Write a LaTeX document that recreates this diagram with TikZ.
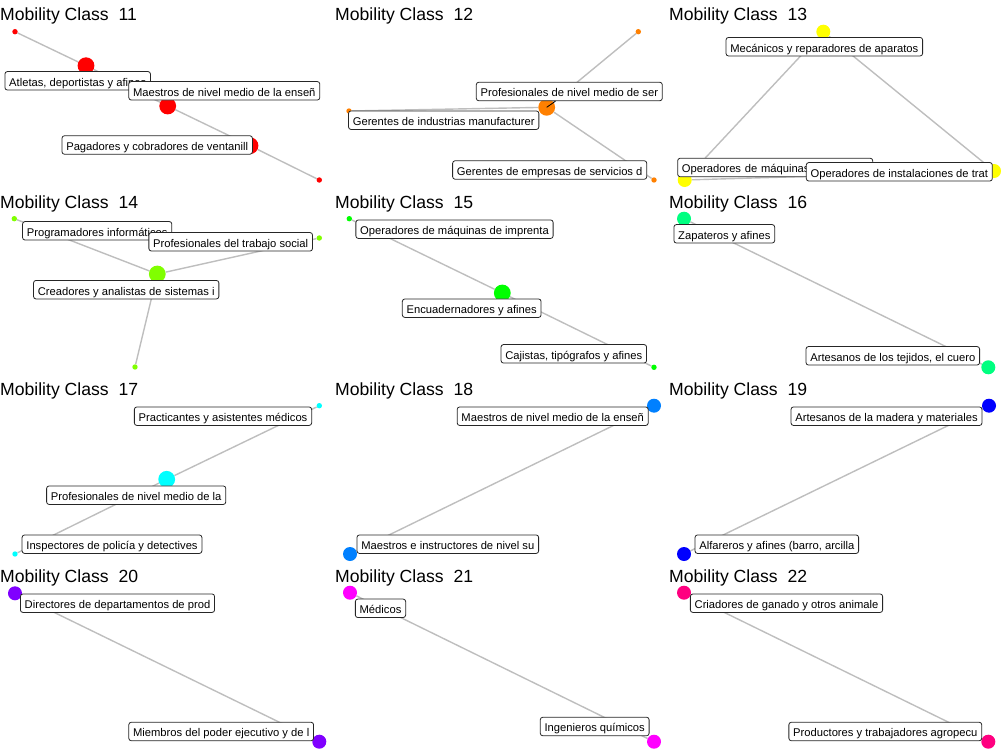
\documentclass[tikz,border=0pt]{standalone}
\usepackage{fontspec}
\setmainfont{Liberation Sans}
\usetikzlibrary{backgrounds}

\definecolor{c11}{RGB}{255,0,0}
\definecolor{c12}{RGB}{255,128,0}
\definecolor{c13}{RGB}{255,255,0}
\definecolor{c14}{RGB}{128,255,0}
\definecolor{c15}{RGB}{0,255,0}
\definecolor{c16}{RGB}{0,255,128}
\definecolor{c17}{RGB}{0,255,255}
\definecolor{c18}{RGB}{0,128,255}
\definecolor{c19}{RGB}{0,0,255}
\definecolor{c20}{RGB}{128,0,255}
\definecolor{c21}{RGB}{255,0,255}
\definecolor{c22}{RGB}{255,0,128}
\definecolor{edgegray}{RGB}{190,190,190}

\tikzset{
  bigpt/.style={circle, fill=#1, inner sep=0pt, minimum size=16.8pt},
  midpt/.style={circle, fill=#1, inner sep=0pt, minimum size=14pt},
  smallpt/.style={circle, fill=#1, inner sep=0pt, minimum size=5.4pt},
  lbl/.style={draw=black!85, fill=white, line width=0.8pt, rounded corners=2.5pt,
    inner xsep=4.3pt, inner ysep=3.2pt, text height=11.4pt, text depth=0.7pt,
    font=\fontsize{11.2}{13}\selectfont},
  ttl/.style={anchor=base west, inner sep=0pt, font=\fontsize{17.6}{20}\selectfont},
  edge/.style={draw=edgegray, line width=1.4pt},
  seg/.style={draw=black, line width=0.8pt}
}

\begin{document}
\begin{tikzpicture}[x=1pt, y=-1pt]
  \useasboundingbox (0,0) rectangle (1004,749);

  % titles
  \node[ttl] (t11) at (0,20.7) {Mobility Class~~11};
  \node[ttl] (t12) at (335,20.7) {Mobility Class~~12};
  \node[ttl] (t13) at (669,20.7) {Mobility Class~~13};
  \node[ttl] (t14) at (0,208.7) {Mobility Class~~14};
  \node[ttl] (t15) at (335,208.7) {Mobility Class~~15};
  \node[ttl] (t16) at (669,208.7) {Mobility Class~~16};
  \node[ttl] (t17) at (0,395.7) {Mobility Class~~17};
  \node[ttl] (t18) at (335,395.7) {Mobility Class~~18};
  \node[ttl] (t19) at (669,395.7) {Mobility Class~~19};
  \node[ttl] (t20) at (0,582.2) {Mobility Class~~20};
  \node[ttl] (t21) at (335,582.2) {Mobility Class~~21};
  \node[ttl] (t22) at (669,582.2) {Mobility Class~~22};

  % points
  \node[smallpt=c11] (p11a) at (15,31.7) {};
  \node[bigpt=c11] (p11b) at (86,65.7) {};
  \node[bigpt=c11] (p11c) at (167.7,106) {};
  \node[bigpt=c11] (p11d) at (250,145.7) {};
  \node[smallpt=c11] (p11e) at (319.3,180) {};

  \node[smallpt=c12] (p12a) at (638.3,31.7) {};
  \node[smallpt=c12] (p12b) at (349,111) {};
  \node[bigpt=c12] (p12c) at (546.7,107.3) {};
  \node[smallpt=c12] (p12d) at (654,180) {};

  \node[midpt=c13] (p13a) at (823.3,31.7) {};
  \node[midpt=c13] (p13b) at (684.7,180) {};
  \node[midpt=c13] (p13c) at (994,171) {};

  \node[smallpt=c14] (p14a) at (14.3,218.7) {};
  \node[smallpt=c14] (p14b) at (319.3,238) {};
  \node[bigpt=c14] (p14c) at (157.3,274) {};
  \node[smallpt=c14] (p14d) at (135,367) {};

  \node[smallpt=c15] (p15a) at (349.3,218.7) {};
  \node[bigpt=c15] (p15b) at (502.3,293) {};
  \node[smallpt=c15] (p15c) at (654,367.3) {};

  \node[midpt=c16] (p16a) at (684,218.7) {};
  \node[midpt=c16] (p16b) at (988.3,367.3) {};

  \node[smallpt=c17] (p17a) at (319.3,405.7) {};
  \node[bigpt=c17] (p17b) at (166.7,479.3) {};
  \node[smallpt=c17] (p17c) at (15,554) {};

  \node[midpt=c18] (p18a) at (654,405.7) {};
  \node[midpt=c18] (p18b) at (350,554) {};

  \node[midpt=c19] (p19a) at (989,405.7) {};
  \node[midpt=c19] (p19b) at (684,554) {};

  \node[midpt=c20] (p20a) at (15,593.3) {};
  \node[midpt=c20] (p20b) at (319.3,741.7) {};

  \node[midpt=c21] (p21a) at (350,592.7) {};
  \node[midpt=c21] (p21b) at (654,741.7) {};

  \node[midpt=c22] (p22a) at (684,592.7) {};
  \node[midpt=c22] (p22b) at (988.3,741.7) {};

  % edges
  \begin{scope}[on background layer]
    \draw[edge] (p11a) -- (p11b) -- (p11c) -- (p11d) -- (p11e);
    \draw[edge] (p12c) -- (p12a);
    \draw[edge] (p12c) -- (p12b);
    \draw[edge] (p12c) -- (p12d);
    \draw[edge] (p13a) -- (p13b) -- (p13c) -- (p13a);
    \draw[edge] (p14c) -- (p14a);
    \draw[edge] (p14c) -- (p14b);
    \draw[edge] (p14c) -- (p14d);
    \draw[edge] (p15b) -- (p15a);
    \draw[edge] (p15b) -- (p15c);
    \draw[edge] (p16a) -- (p16b);
    \draw[edge] (p17b) -- (p17a);
    \draw[edge] (p17b) -- (p17c);
    \draw[edge] (p18a) -- (p18b);
    \draw[edge] (p19a) -- (p19b);
    \draw[edge] (p20a) -- (p20b);
    \draw[edge] (p21a) -- (p21b);
    \draw[edge] (p22a) -- (p22b);
  \end{scope}

  % labels
  \node[lbl] (l11a) at (77.7,80.8) {Atletas, deportistas y afines};
  \node[lbl] (l11b) at (224.3,90.8) {Maestros de nivel medio de la enseñ};
  \node[lbl] (l11c) at (157.2,145) {Pagadores y cobradores de ventanill};

  \node[lbl] (l12a) at (569.3,91.5) {Profesionales de nivel medio de ser};
  \draw[seg] (p12c.center) -- (l12a);
  \node[lbl] (l12b) at (443.7,120.2) {Gerentes de industrias manufacturer};
  \node[lbl] (l12c) at (549.7,170) {Gerentes de empresas de servicios d};

  \node[lbl] (l13a) at (824.3,46.7) {Mecánicos y reparadores de aparatos};
  \node[lbl, text width=186.5pt, align=left] (l13b) at (775.2,167.5) {Operadores de máquinas};
  \node[lbl] (l13c) at (899.3,171.8) {Operadores de instalaciones de trat};

  \node[lbl] (l14a) at (97.2,230.8) {Programadores informáticos};
  \node[lbl] (l14b) at (230.7,241.8) {Profesionales del trabajo social};
  \node[lbl] (l14c) at (126.2,289.7) {Creadores y analistas de sistemas i};

  \node[lbl] (l15a) at (454.5,229.2) {Operadores de máquinas de imprenta};
  \node[lbl] (l15b) at (471.7,308.2) {Encuadernadores y afines};
  \node[lbl] (l15c) at (573.8,353.8) {Cajistas, tipógrafos y afines};

  \node[lbl] (l16a) at (724.3,233.8) {Zapateros y afines};
  \node[lbl] (l16b) at (892.8,355.8) {Artesanos de los tejidos, el cuero};

  \node[lbl] (l17a) at (223,416.2) {Practicantes y asistentes médicos};
  \node[lbl] (l17b) at (136.2,495.2) {Profesionales de nivel medio de la};
  \node[lbl] (l17c) at (112,544.2) {Inspectores de policía y detectives};

  \node[lbl] (l18a) at (552.7,416.2) {Maestros de nivel medio de la enseñ};
  \node[lbl] (l18b) at (447.8,544.2) {Maestros e instructores de nivel su};

  \node[lbl] (l19a) at (886.5,416.2) {Artesanos de la madera y materiales};
  \node[lbl] (l19b) at (776.8,544.2) {Alfareros y afines (barro, arcilla};

  \node[lbl] (l20a) at (117.5,603.2) {Directores de departamentos de prod};
  \node[lbl] (l20b) at (221.2,731.5) {Miembros del poder ejecutivo y de l};

  \node[lbl] (l21a) at (380.5,608.3) {Médicos};
  \node[lbl] (l21b) at (594.7,726.5) {Ingenieros químicos};

  \node[lbl] (l22a) at (786.5,603.2) {Criadores de ganado y otros animale};
  \node[lbl] (l22b) at (885.3,731.5) {Productores y trabajadores agropecu};
\end{tikzpicture}
\end{document}
